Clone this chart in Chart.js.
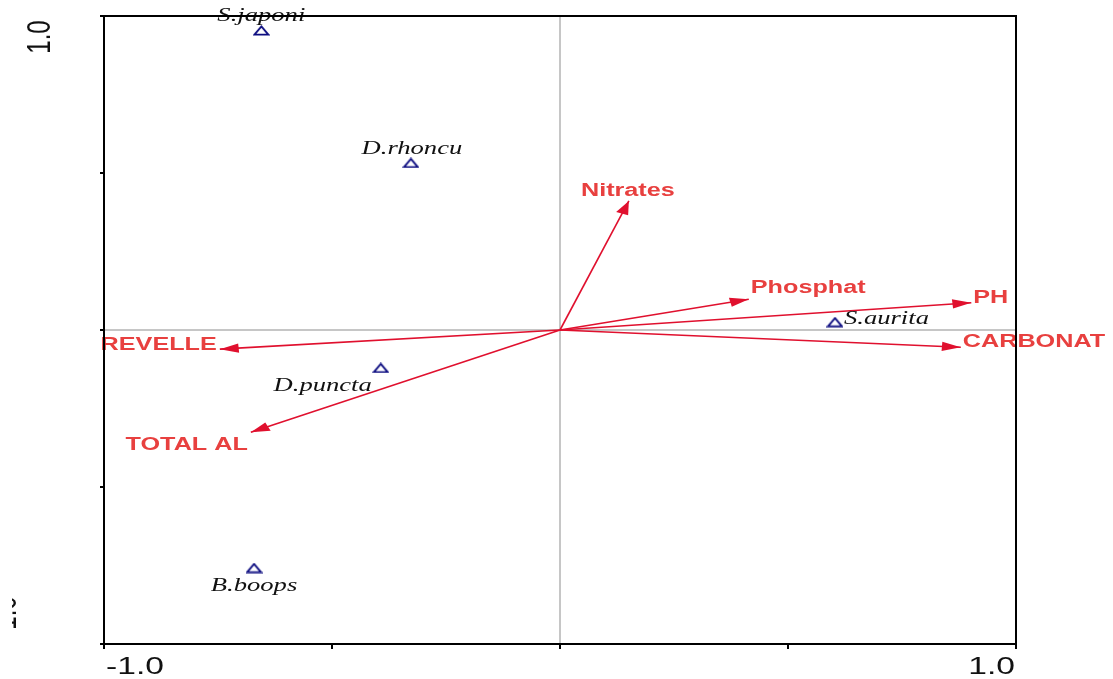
<!DOCTYPE html>
<html>
<head>
<meta charset="utf-8">
<title>CCA biplot</title>
<script src="https://cdn.jsdelivr.net/npm/chart.js@4/dist/chart.umd.min.js"></script>
<style>
  html, body { margin: 0; padding: 0; background: #ffffff; }
  #wrap { width: 1113px; height: 679px; }
</style>
</head>
<body>
<div id="wrap"><canvas id="biplot" width="1113" height="679"></canvas></div>
<script>
// Species scores (axis 1, axis 2)
const speciesNames = ['S.japoni', 'D.rhoncu', 'D.puncta', 'B.boops', 'S.aurita'];
const speciesX = [-0.655, -0.327, -0.393, -0.671, 0.603];
const speciesY = [0.954, 0.532, -0.121, -0.758, 0.025];

// Environmental variable vectors (arrow tips)
const variableNames = ['Nitrates', 'Phosphat', 'PH', 'CARBONAT', 'REVELLE', 'TOTAL AL'];
const variableX = [0.151, 0.414, 0.902, 0.879, -0.746, -0.678];
const variableY = [0.411, 0.098, 0.087, -0.055, -0.061, -0.326];

// Axis ticks and the labelled ends
const axisTicks = [-1, -0.5, 0, 0.5, 1];
const axisEndLabels = ['-1.0', '1.0'];

// ---- styling / placement (kept apart from the data) ----
const STRETCH = 1.4;           // horizontal stretch applied to all lettering
const ARROW_COLOR = '#e0102e';
const ARROW_TEXT = '#e8403f';
const SPECIES_COLOR = '#0c0c80';

// label anchor relative to arrow tip: [align, dx, dy(baseline)]
const variableLabelPlacement = [
  ['center', -1, -5], ['left', 2, -6], ['left', 2, 0],
  ['left', 2, 0], ['right', -3, 1], ['right', -3, 18]
];
// label anchor relative to species symbol: [align, dx, dy(baseline)]
const speciesLabelPlacement = [
  ['center', 0, -9], ['center', 1, -9], ['right', -9, 23],
  ['center', 0, 23], ['left', 9, 2]
];

// open triangle symbol for species
function triangleSymbol() {
  const c = document.createElement('canvas');
  c.width = 17; c.height = 11;
  const g = c.getContext('2d');
  g.strokeStyle = SPECIES_COLOR;
  g.lineWidth = 1.8;
  g.lineJoin = 'miter';
  g.beginPath();
  g.moveTo(8.5, 1.4);
  g.lineTo(15.4, 9.6);
  g.lineTo(1.6, 9.6);
  g.closePath();
  g.stroke();
  return c;
}

function stretchedText(ctx, text, x, y, align, font, color) {
  ctx.save();
  ctx.translate(x, y);
  ctx.scale(STRETCH, 1);
  ctx.font = font;
  ctx.fillStyle = color;
  ctx.textAlign = align;
  ctx.textBaseline = 'alphabetic';
  ctx.fillText(text, 0, 0);
  ctx.restore();
}

const speciesData = speciesX.map((x, i) => ({ x: x, y: speciesY[i] }));

const arrowDatasets = variableNames.map((name, i) => ({
  type: 'line',
  label: name,
  data: [{ x: 0, y: 0 }, { x: variableX[i], y: variableY[i] }],
  showLine: true,
  borderColor: ARROW_COLOR,
  borderWidth: 1.6,
  pointRadius: 0,
  fill: false,
  tension: 0
}));

const biplotPlugin = {
  id: 'biplotDecor',
  beforeDatasetsDraw(chart) {
    const ctx = chart.ctx;
    const a = chart.chartArea;
    const xs = chart.scales.x, ys = chart.scales.y;
    const x0 = xs.getPixelForValue(0), y0 = ys.getPixelForValue(0);
    ctx.save();
    ctx.strokeStyle = '#b4b4b4';
    ctx.lineWidth = 1.5;
    ctx.beginPath();
    ctx.moveTo(x0, a.top); ctx.lineTo(x0, a.bottom);
    ctx.moveTo(a.left, y0); ctx.lineTo(a.right, y0);
    ctx.stroke();
    ctx.restore();
  },
  afterDatasetsDraw(chart) {
    const ctx = chart.ctx;
    const xs = chart.scales.x, ys = chart.scales.y;
    const ox = xs.getPixelForValue(0), oy = ys.getPixelForValue(0);

    // arrow heads and variable names
    variableNames.forEach((name, i) => {
      const tx = xs.getPixelForValue(variableX[i]);
      const ty = ys.getPixelForValue(variableY[i]);
      // build the head in unstretched space, then stretch horizontally
      let ux = (tx - ox) / STRETCH, uy = ty - oy;
      const len = Math.hypot(ux, uy);
      ux /= len; uy /= len;
      const L = 13.5, W = 4.6;
      const bx = -ux * L, by = -uy * L;
      const px = -uy * W, py = ux * W;
      ctx.save();
      ctx.fillStyle = ARROW_COLOR;
      ctx.beginPath();
      ctx.moveTo(tx, ty);
      ctx.lineTo(tx + (bx + px) * STRETCH, ty + by + py);
      ctx.lineTo(tx + (bx - px) * STRETCH, ty + by - py);
      ctx.closePath();
      ctx.fill();
      ctx.restore();

      const p = variableLabelPlacement[i];
      stretchedText(ctx, name, tx + p[1], ty + p[2], p[0],
        'bold 18px "Liberation Sans", Arial, sans-serif', ARROW_TEXT);
    });

    // species names
    speciesNames.forEach((name, i) => {
      const sx = xs.getPixelForValue(speciesX[i]);
      const sy = ys.getPixelForValue(speciesY[i]);
      const p = speciesLabelPlacement[i];
      stretchedText(ctx, name, sx + p[1], sy + p[2], p[0],
        'italic 19px "Liberation Serif", "Times New Roman", serif', '#111111');
    });
  },
  afterDraw(chart) {
    const ctx = chart.ctx;
    const a = chart.chartArea;
    const xs = chart.scales.x, ys = chart.scales.y;
    ctx.save();
    // frame
    ctx.strokeStyle = '#000000';
    ctx.lineWidth = 2;
    ctx.strokeRect(a.left, a.top, a.right - a.left, a.bottom - a.top);
    // tick marks: left axis outward, bottom axis downward
    ctx.beginPath();
    axisTicks.forEach(v => {
      const py = ys.getPixelForValue(v);
      ctx.moveTo(a.left - 4, py); ctx.lineTo(a.left, py);
      const px = xs.getPixelForValue(v);
      ctx.moveTo(px, a.bottom); ctx.lineTo(px, a.bottom + 5);
    });
    ctx.stroke();
    ctx.restore();

    const tickFont = '24px "Liberation Sans", Arial, sans-serif';
    const first = axisTicks[0], last = axisTicks[axisTicks.length - 1];
    // horizontal axis end labels
    stretchedText(ctx, axisEndLabels[0], xs.getPixelForValue(first) + 2, a.bottom + 30, 'left', tickFont, '#111111');
    stretchedText(ctx, axisEndLabels[1], xs.getPixelForValue(last) - 1, a.bottom + 30, 'right', tickFont, '#111111');

    // vertical axis end labels, written upward
    const drawUp = (text, bx, cy, clip) => {
      ctx.save();
      if (clip) { ctx.beginPath(); ctx.rect(clip[0], clip[1], clip[2], clip[3]); ctx.clip(); }
      ctx.translate(bx, cy);
      ctx.scale(STRETCH, 1);
      ctx.rotate(-Math.PI / 2);
      ctx.font = tickFont;
      ctx.fillStyle = '#111111';
      ctx.textAlign = 'center';
      ctx.textBaseline = 'alphabetic';
      ctx.fillText(text, 0, 0);
      ctx.restore();
    };
    drawUp(axisEndLabels[1], 50, ys.getPixelForValue(last) + 21, null);
    drawUp(axisEndLabels[0], 16, ys.getPixelForValue(first) - 27, [12, 590, 5, 40]);
  }
};

new Chart(document.getElementById('biplot'), {
  type: 'scatter',
  data: {
    datasets: [
      {
        label: 'Species',
        data: speciesData,
        pointStyle: triangleSymbol(),
        pointRadius: 6,
        pointHoverRadius: 6
      },
      ...arrowDatasets
    ]
  },
  options: {
    responsive: false,
    devicePixelRatio: 1,
    animation: false,
    layout: { padding: { left: 104, right: 97, top: 16, bottom: 35 } },
    plugins: {
      legend: { display: false },
      tooltip: { enabled: false },
      title: { display: false }
    },
    scales: {
      x: { type: 'linear', min: -1, max: 1, display: false },
      y: { type: 'linear', min: -1, max: 1, display: false }
    }
  },
  plugins: [biplotPlugin]
});
</script>
</body>
</html>
